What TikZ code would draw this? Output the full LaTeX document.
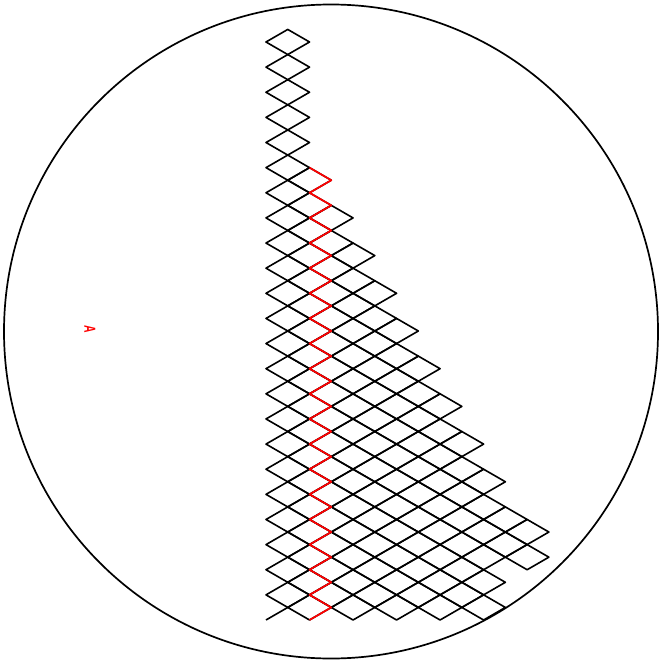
\documentclass[tikz,border=0pt]{standalone}
\usepackage{fontspec}
\setmainfont{Liberation Sans}
\tikzset{
  rim/.style={draw=black,line width=1.7pt},
  lattice/.style={draw=black,line width=1.6pt,line join=round},
  zig/.style={draw=red,line width=1.7pt,line join=round},
  mark label/.style={text=red,inner sep=0pt,font=\bfseries\fontsize{16}{16}\selectfont}
}
\begin{document}
\begin{tikzpicture}
\useasboundingbox (0pt,0pt) rectangle (661pt,-666pt);
\node[draw=none,inner sep=0pt,minimum size=0pt] (hub) at (331pt,-331.5pt) {};
\draw[rim] (hub) circle[radius=327pt];
\begin{scope}[shift={(266pt,-42pt)},x=21.76pt,y=-12.565pt]
  % column / first row / last row of the rhombi
  \foreach \c/\a/\b in {1/0/44,2/11/45,3/14/44,4/17/45,5/20/44,6/23/45,7/26/44,8/29/45,9/32/44,10/35/45,11/38/40,12/39/41}{
    \pgfmathtruncatemacro{\s}{\a+2}
    \foreach \j in {\a,\s,...,\b}{
      \draw[lattice] (\c-1,\j) -- (\c,\j-1) -- (\c+1,\j) -- (\c,\j+1) -- cycle;
    }
  }
  \draw[lattice] (0,46) -- (1,45);
  \draw[zig] (2,10) \foreach \j in {11,13,...,45}{ -- (3,\j) -- (2,\j+1) };
\end{scope}
\node[mark label,yscale=0.65,rotate=-90] (tag) at (90pt,-329.5pt) {A};
\end{tikzpicture}
\end{document}
